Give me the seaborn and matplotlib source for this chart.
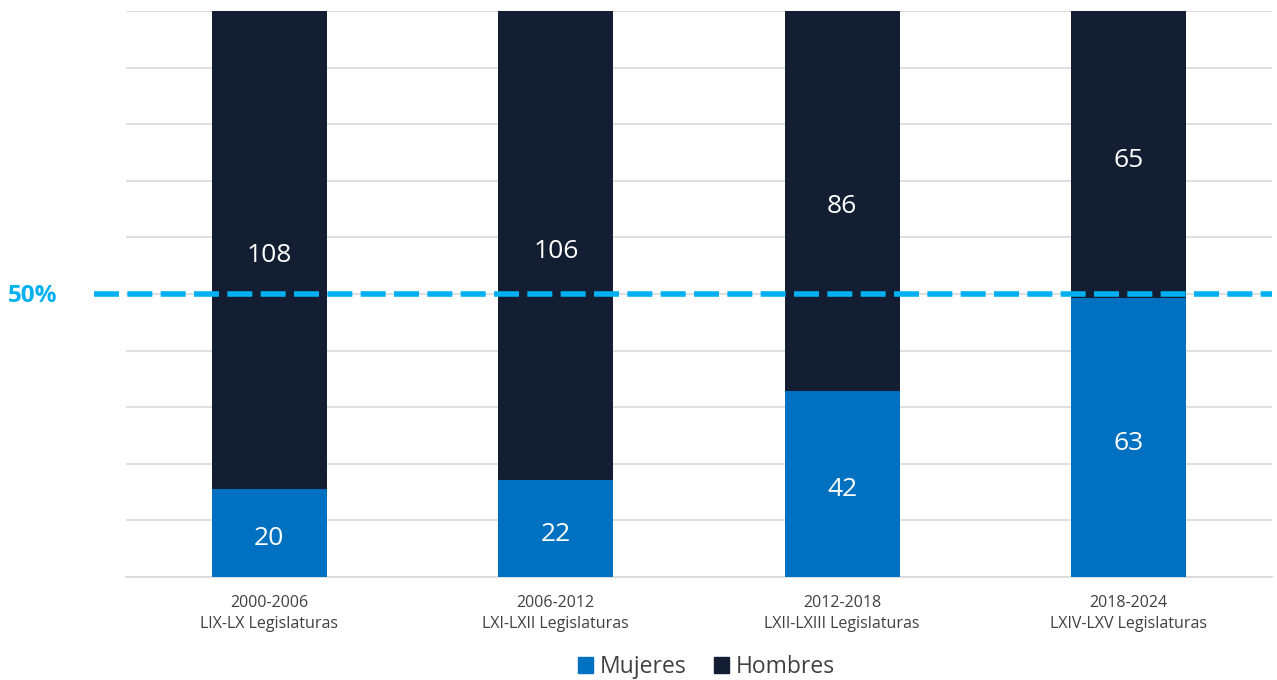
import pandas as pd
import seaborn as sns
import matplotlib.pyplot as plt
from matplotlib.patches import Patch

periodos = ['2000-2006\nLIX-LX Legislaturas', '2006-2012\nLXI-LXII Legislaturas',
            '2012-2018\nLXII-LXIII Legislaturas', '2018-2024\nLXIV-LXV Legislaturas']
mujeres = [20, 22, 42, 63]
hombres = [108, 106, 86, 65]

df = pd.DataFrame({'periodo': periodos, 'mujeres': mujeres, 'hombres': hombres})
df['total'] = df['mujeres'] + df['hombres']
df['pct_m'] = df['mujeres'] / df['total'] * 100
df['pct_t'] = 100.0

c_muj = '#0070C0'
c_hom = '#131E33'
c_50 = '#00B0F0'

sns.set_style('white')
plt.rcParams['font.family'] = ['Open Sans', 'DejaVu Sans']

fig = plt.figure(figsize=(12.77, 6.8), dpi=100)
ax = fig.add_axes([126 / 1277, 1 - 577 / 680, (1272 - 126) / 1277, (577 - 11) / 680])

sns.barplot(data=df, x='periodo', y='pct_t', color=c_hom, width=0.4, ax=ax, saturation=1,
            linewidth=0, zorder=2)
sns.barplot(data=df, x='periodo', y='pct_m', color=c_muj, width=0.4, ax=ax, saturation=1,
            linewidth=0, zorder=3)

ax.set_ylim(0, 100)
ax.set_xlim(-0.5, 3.5)
ax.set_yticks(range(0, 101, 10))
ax.set_yticklabels([])
ax.tick_params(axis='y', length=0)
ax.tick_params(axis='x', length=0, labelsize=11.5, colors='#404040', pad=13)
for lbl in ax.get_xticklabels():
    lbl.set_linespacing(1.45)
ax.grid(axis='y', color='#D9D9D9', linewidth=1.2, zorder=0)
ax.set_axisbelow(True)
for s in ['top', 'right', 'left']:
    ax.spines[s].set_visible(False)
ax.spines['bottom'].set_color('#D9D9D9')
ax.spines['bottom'].set_linewidth(1.2)
ax.set_xlabel('')
ax.set_ylabel('')

# etiquetas de valores
for i, row in df.iterrows():
    ax.text(i, row['pct_m'] / 2 - 1, str(row['mujeres']), ha='center', va='center',
            color='white', fontsize=19, zorder=5)
    ax.text(i, row['pct_m'] + (100 - row['pct_m']) / 2 - 1, str(row['hombres']), ha='center',
            va='center', color='white', fontsize=19, zorder=5)

# línea del 50%
ax.plot([-0.61, 3.5], [50, 50], color=c_50, linewidth=4, linestyle=(0, (4.5, 1.5)),
        clip_on=False, zorder=6)
fig.text(33 / 1277, 1 - 296 / 680, '50%', color=c_50, fontsize=17.5, fontweight='bold',
         ha='center', va='center')

handles = [Patch(color=c_muj, label='Mujeres'), Patch(color=c_hom, label='Hombres')]
fig.legend(handles=handles, loc='center', bbox_to_anchor=(0.553, 1 - 667 / 680), ncol=2,
           frameon=False, fontsize=16.5, handlelength=0.65, handleheight=0.65,
           handletextpad=0.3, columnspacing=1.2, labelcolor='#404040')

plt.savefig('out.png', dpi=100)
